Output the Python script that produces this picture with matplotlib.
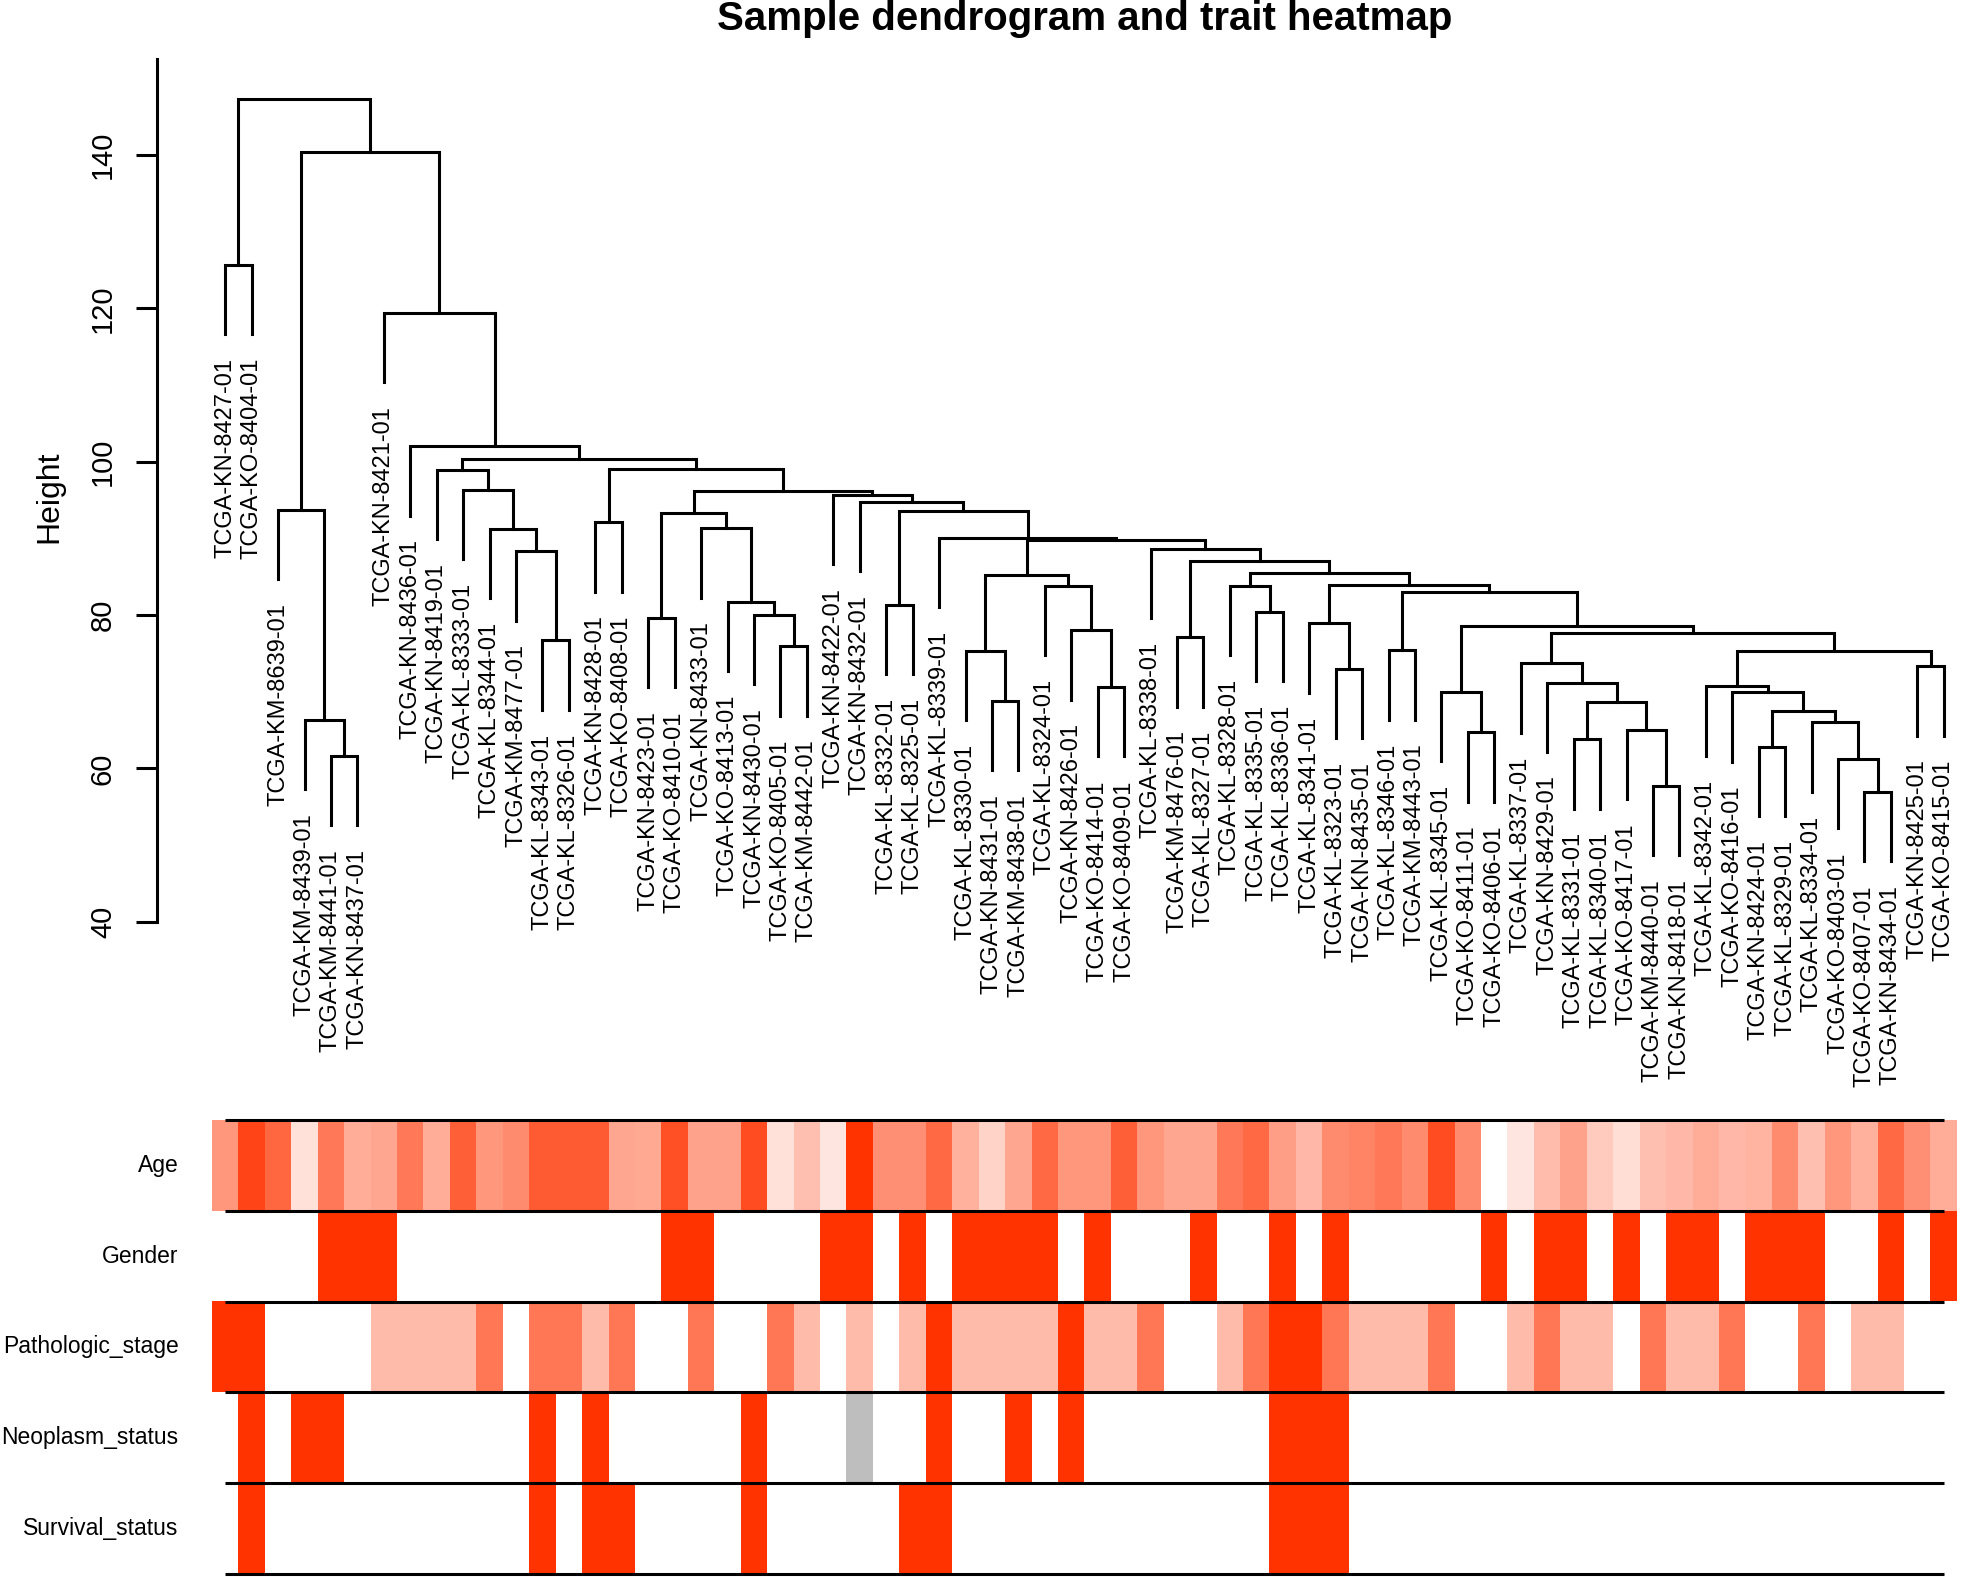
import numpy as np
import matplotlib.pyplot as plt
from matplotlib.colors import LinearSegmentedColormap, to_rgb

plt.rcParams['font.family'] = ['Liberation Sans', 'DejaVu Sans']

# sample names in dendrogram order (left to right)
samples = [
    "TCGA-KN-8427-01", "TCGA-KO-8404-01", "TCGA-KM-8639-01", "TCGA-KM-8439-01", "TCGA-KM-8441-01",
    "TCGA-KN-8437-01", "TCGA-KN-8421-01", "TCGA-KN-8436-01", "TCGA-KN-8419-01", "TCGA-KL-8333-01",
    "TCGA-KL-8344-01", "TCGA-KM-8477-01", "TCGA-KL-8343-01", "TCGA-KL-8326-01", "TCGA-KN-8428-01",
    "TCGA-KO-8408-01", "TCGA-KN-8423-01", "TCGA-KO-8410-01", "TCGA-KN-8433-01", "TCGA-KO-8413-01",
    "TCGA-KN-8430-01", "TCGA-KO-8405-01", "TCGA-KM-8442-01", "TCGA-KN-8422-01", "TCGA-KN-8432-01",
    "TCGA-KL-8332-01", "TCGA-KL-8325-01", "TCGA-KL-8339-01", "TCGA-KL-8330-01", "TCGA-KN-8431-01",
    "TCGA-KM-8438-01", "TCGA-KL-8324-01", "TCGA-KN-8426-01", "TCGA-KO-8414-01", "TCGA-KO-8409-01",
    "TCGA-KL-8338-01", "TCGA-KM-8476-01", "TCGA-KL-8327-01", "TCGA-KL-8328-01", "TCGA-KL-8335-01",
    "TCGA-KL-8336-01", "TCGA-KL-8341-01", "TCGA-KL-8323-01", "TCGA-KN-8435-01", "TCGA-KL-8346-01",
    "TCGA-KM-8443-01", "TCGA-KL-8345-01", "TCGA-KO-8411-01", "TCGA-KO-8406-01", "TCGA-KL-8337-01",
    "TCGA-KN-8429-01", "TCGA-KL-8331-01", "TCGA-KL-8340-01", "TCGA-KO-8417-01", "TCGA-KM-8440-01",
    "TCGA-KN-8418-01", "TCGA-KL-8342-01", "TCGA-KO-8416-01", "TCGA-KN-8424-01", "TCGA-KL-8329-01",
    "TCGA-KL-8334-01", "TCGA-KO-8403-01", "TCGA-KO-8407-01", "TCGA-KN-8434-01", "TCGA-KN-8425-01",
    "TCGA-KO-8415-01",
]

# hclust style merge table: negative = sample (1-based position), positive = earlier merge
merge_left = [-5, -4, -3, -1, -13, -12, -11, -10, -9, -15,
              -17, -22, -21, -20, -19, 11, -26, -30, -29, -34,
              -33, -32, 19, -37, -40, -39, -43, -42, -45, -48,
              -47, -52, -55, -54, 32, -51, -50, -59, -63, -62,
              -61, 38, -58, -57, -65, 44, 37, 31, 29, 28,
              26, 24, -36, 23, -28, 17, -25, -24, 16, 10,
              9, -8, -7, 3, 4]
merge_right = [-6, 1, 2, -2, -14, 5, 6, 7, 8, -16,
               -18, -23, 12, 13, 14, 15, -27, -31, 18, -35,
               20, 21, 22, -38, -41, 25, -44, 27, -46, -49,
               30, -53, -56, 33, 34, 35, 36, -60, -64, 39,
               40, 41, 42, 43, -66, 45, 46, 47, 48, 49,
               50, 51, 52, 53, 54, 55, 56, 57, 58, 59,
               60, 61, 62, 63, 64]
merge_height = [61.6, 66.3, 93.7, 125.7, 76.7, 88.3, 91.2, 96.3, 98.9, 92.1,
                79.6, 75.9, 80.0, 81.7, 91.3, 93.3, 81.3, 68.8, 75.3, 70.6,
                78.0, 83.8, 85.2, 77.1, 80.4, 83.8, 73.0, 78.9, 75.4, 64.7,
                70.0, 63.8, 57.7, 65.0, 68.7, 71.2, 73.7, 62.8, 56.9, 61.2,
                66.0, 67.5, 69.9, 70.7, 73.3, 75.3, 77.6, 78.6, 83.0, 83.9,
                85.5, 87.1, 88.6, 89.8, 90.1, 93.6, 94.8, 95.7, 96.2, 99.1,
                100.3, 102.0, 119.4, 140.35, 147.3]

trait_names = ["Age", "Gender", "Pathologic_stage", "Neoplasm_status", "Survival_status"]
age = [58, 80, 71, 38, 66, 52, 54, 66, 52, 73,
       58, 61, 74, 74, 74, 54, 53, 77, 55, 55,
       78, 38, 47, 37, 85, 60, 60, 70, 51, 42,
       54, 70, 58, 58, 73, 58, 54, 54, 66, 70,
       56, 49, 61, 63, 66, 61, 78, 61, 30, 37,
       48, 55, 44, 39, 47, 49, 52, 49, 50, 61,
       47, 58, 51, 70, 60, 52]
gender = [0, 0, 0, 0, 1, 1, 1, 0, 0, 0,
          0, 0, 0, 0, 0, 0, 0, 1, 1, 0,
          0, 0, 0, 1, 1, 0, 1, 0, 1, 1,
          1, 1, 0, 1, 0, 0, 0, 1, 0, 0,
          1, 0, 1, 0, 0, 0, 0, 0, 1, 0,
          1, 1, 0, 1, 0, 1, 1, 0, 1, 1,
          1, 0, 0, 1, 0, 1]
stage = [4, 4, 1, 1, 1, 1, 2, 2, 2, 2,
         3, 1, 3, 3, 2, 3, 1, 1, 3, 1,
         1, 3, 2, 1, 2, 1, 2, 4, 2, 2,
         2, 2, 4, 2, 2, 3, 1, 1, 2, 3,
         4, 4, 3, 2, 2, 2, 3, 1, 1, 2,
         3, 2, 2, 1, 3, 2, 2, 3, 1, 1,
         3, 1, 2, 2, 1, 1]
neoplasm = [0, 1, 0, 1, 1, 0, 0, 0, 0, 0,
            0, 0, 1, 0, 1, 0, 0, 0, 0, 0,
            1, 0, 0, 0, np.nan, 0, 0, 1, 0, 0,
            1, 0, 1, 0, 0, 0, 0, 0, 0, 0,
            1, 1, 1, 0, 0, 0, 0, 0, 0, 0,
            0, 0, 0, 0, 0, 0, 0, 0, 0, 0,
            0, 0, 0, 0, 0, 0]
survival = [0, 1, 0, 0, 0, 0, 0, 0, 0, 0,
            0, 0, 1, 0, 1, 1, 0, 0, 0, 0,
            1, 0, 0, 0, 0, 0, 1, 1, 0, 0,
            0, 0, 0, 0, 0, 0, 0, 0, 0, 0,
            1, 1, 1, 0, 0, 0, 0, 0, 0, 0,
            0, 0, 0, 0, 0, 0, 0, 0, 0, 0,
            0, 0, 0, 0, 0, 0]

W, H = 1961, 1577
fig = plt.figure(figsize=(W / 100, H / 100), dpi=100)

# --- dendrogram ---
ax = fig.add_axes([212 / W, 1 - 921.7 / H, 1745 / W, 862.5 / H])
hang = 0.1 * (max(merge_height) - min(merge_height))
lw = 2.2

node_x = {}
for m, (a, b, h) in enumerate(zip(merge_left, merge_right, merge_height), start=1):
    xs, ys = [], []
    for child in (a, b):
        if child < 0:
            cx, cy = child * -1 - 1, h - hang
            ax.text(cx, cy - 3.1, samples[cx], rotation=90, ha='center', va='top',
                    fontsize=17, clip_on=False)
        else:
            cx, cy = node_x[child], merge_height[child - 1]
        xs.append(cx)
        ys.append(cy)
    node_x[m] = (xs[0] + xs[1]) / 2
    ax.plot([xs[0], xs[0], xs[1], xs[1]], [ys[0], h, h, ys[1]], color='black', lw=lw,
            solid_joinstyle='miter', clip_on=False)

ax.set_xlim(-0.5, len(samples) - 0.5)
ax.set_ylim(40, 152.5)
for s in ['top', 'right', 'bottom']:
    ax.spines[s].set_visible(False)
ax.spines['left'].set_position(('outward', 39.4))
ax.spines['left'].set_linewidth(lw)
ax.set_xticks([])
ax.set_yticks([40, 60, 80, 100, 120, 140])
ax.set_yticklabels(['40', '60', '80', '100', '120', '140'], rotation=90, va='center')
ax.tick_params(axis='y', length=15, width=lw, labelsize=21, pad=14)
fig.text(49.5 / W, 1 - 497 / H, 'Height', rotation=90, ha='center', va='center', fontsize=23)

fig.text(0.553, 1 - 30 / H, 'Sample dendrogram and trait heatmap', ha='center', va='baseline',
         fontsize=29, fontweight='bold')

# --- trait heatmap ---
hx = fig.add_axes([212 / W, 1 - 1574 / H, 1745 / W, 454 / H])
cmap = LinearSegmentedColormap.from_list('whitered', ['#FFFFFF', '#FF3300'])
grey = to_rgb('#BEBEBE')

rows = []
for vals in (age, gender, stage, neoplasm, survival):
    v = np.array(vals, dtype=float)
    lo, hi = np.nanmin(v), np.nanmax(v)
    t = (v - lo) / (hi - lo)
    rgb = cmap(np.nan_to_num(t))[:, :3]
    rgb[np.isnan(v)] = grey
    rows.append(rgb)
img = np.stack(rows)

n = len(samples)
hx.imshow(img, extent=(-0.5, n - 0.5, len(trait_names), 0), aspect='auto', interpolation='nearest')
hx.hlines(np.arange(len(trait_names) + 1), 0, n - 1, color='black', lw=2.2, clip_on=False)
hx.set_xlim(-0.5, n - 0.5)
hx.set_ylim(len(trait_names), 0)
hx.axis('off')
for i, name in enumerate(trait_names):
    hx.text(-1.76, i + 0.5, name, ha='right', va='center', fontsize=16.5, clip_on=False)

fig.savefig('out.png', dpi=100)
